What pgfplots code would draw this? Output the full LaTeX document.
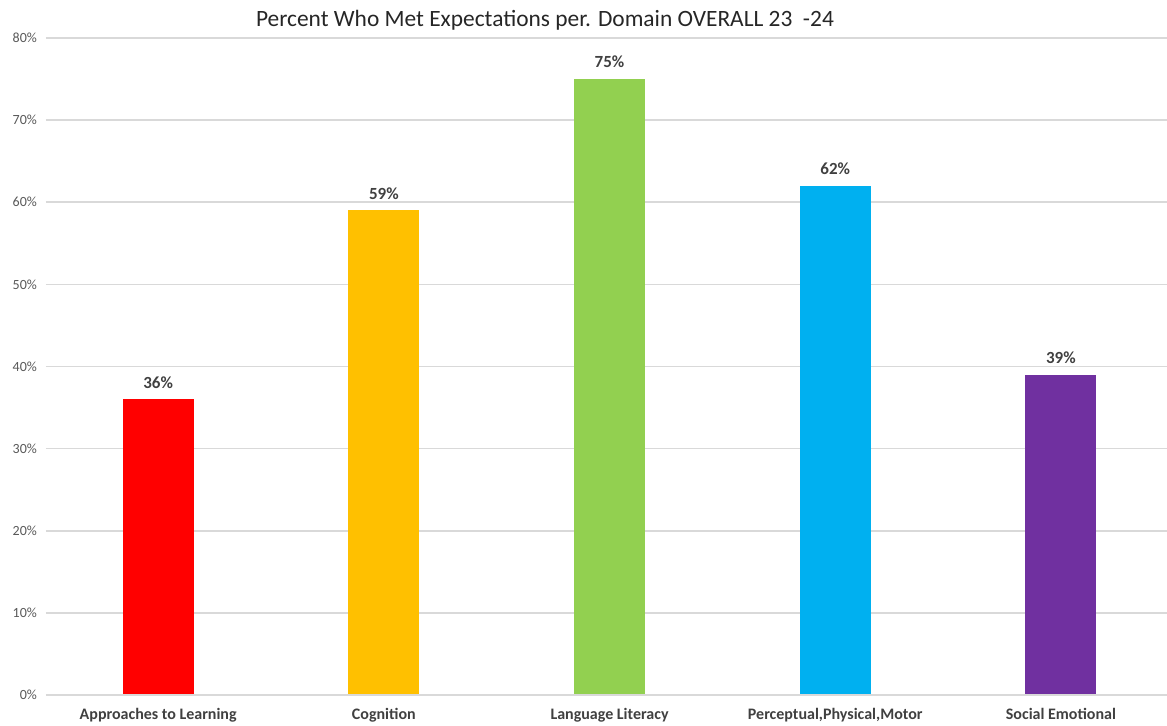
\documentclass[border=0pt]{standalone}
\usepackage{pgfplots}
\pgfplotsset{compat=1.18}
\usepackage{fontspec}
\setmainfont{Carlito}
\definecolor{gridgray}{HTML}{D9D9D9}
\definecolor{ticktext}{HTML}{595959}
\definecolor{labtext}{HTML}{404040}
\definecolor{cred}{HTML}{FF0000}
\definecolor{cgold}{HTML}{FFC000}
\definecolor{cgreen}{HTML}{92D050}
\definecolor{cblue}{HTML}{00B0F0}
\definecolor{cpurple}{HTML}{7030A0}
\begin{document}
\begin{tikzpicture}
\path[use as bounding box] (-23pt,-15pt) rectangle (560.5pt,347.5pt);
\begin{axis}[
  at={(0,0)}, anchor=south west,
  scale only axis,
  width=560.5pt, height=328.5pt,
  xmin=-0.497, xmax=4.47,
  ymin=0, ymax=80,
  ybar, bar width=35.5pt, bar shift=0pt,
  axis line style={draw=none},
  axis x line*=bottom,
  ymajorgrids, grid style={gridgray, line width=0.8pt},
  ytick={0,10,...,80},
  yticklabel={\pgfmathprintnumber{\tick}\%},
  yticklabel style={font=\fontsize{7}{8}\selectfont, text=ticktext, xshift=-1pt},
  /pgf/number format/assume math mode=true,
  xtick={0,1,2,3,4},
  xticklabels={Approaches to Learning, Cognition, Language Literacy, {Perceptual,Physical,Motor}, Social Emotional},
  xticklabel style={font=\fontsize{8}{9}\selectfont\bfseries, text=labtext, yshift=-3pt},
  major tick length=0pt,
  nodes near coords={\pgfmathprintnumber{\pgfplotspointmeta}\%},
  nodes near coords style={font=\fontsize{8.5}{9}\selectfont\bfseries, text=labtext, yshift=2pt},
  clip=false,
]
\addplot[fill=cred, draw=none] coordinates {(0,36)};
\addplot[fill=cgold, draw=none] coordinates {(1,59)};
\addplot[fill=cgreen, draw=none] coordinates {(2,75)};
\addplot[fill=cblue, draw=none] coordinates {(3,62)};
\addplot[fill=cpurple, draw=none] coordinates {(4,39)};
\draw[gridgray, line width=0.8pt] (axis cs:-0.497,0) -- (axis cs:4.47,0);
\end{axis}
\node[font=\fontsize{11.7}{13}\selectfont, text=black!85] at (249.5pt,337.5pt) {Percent Who Met Expectations per. Domain OVERALL 23~ -24};
\end{tikzpicture}
\end{document}
